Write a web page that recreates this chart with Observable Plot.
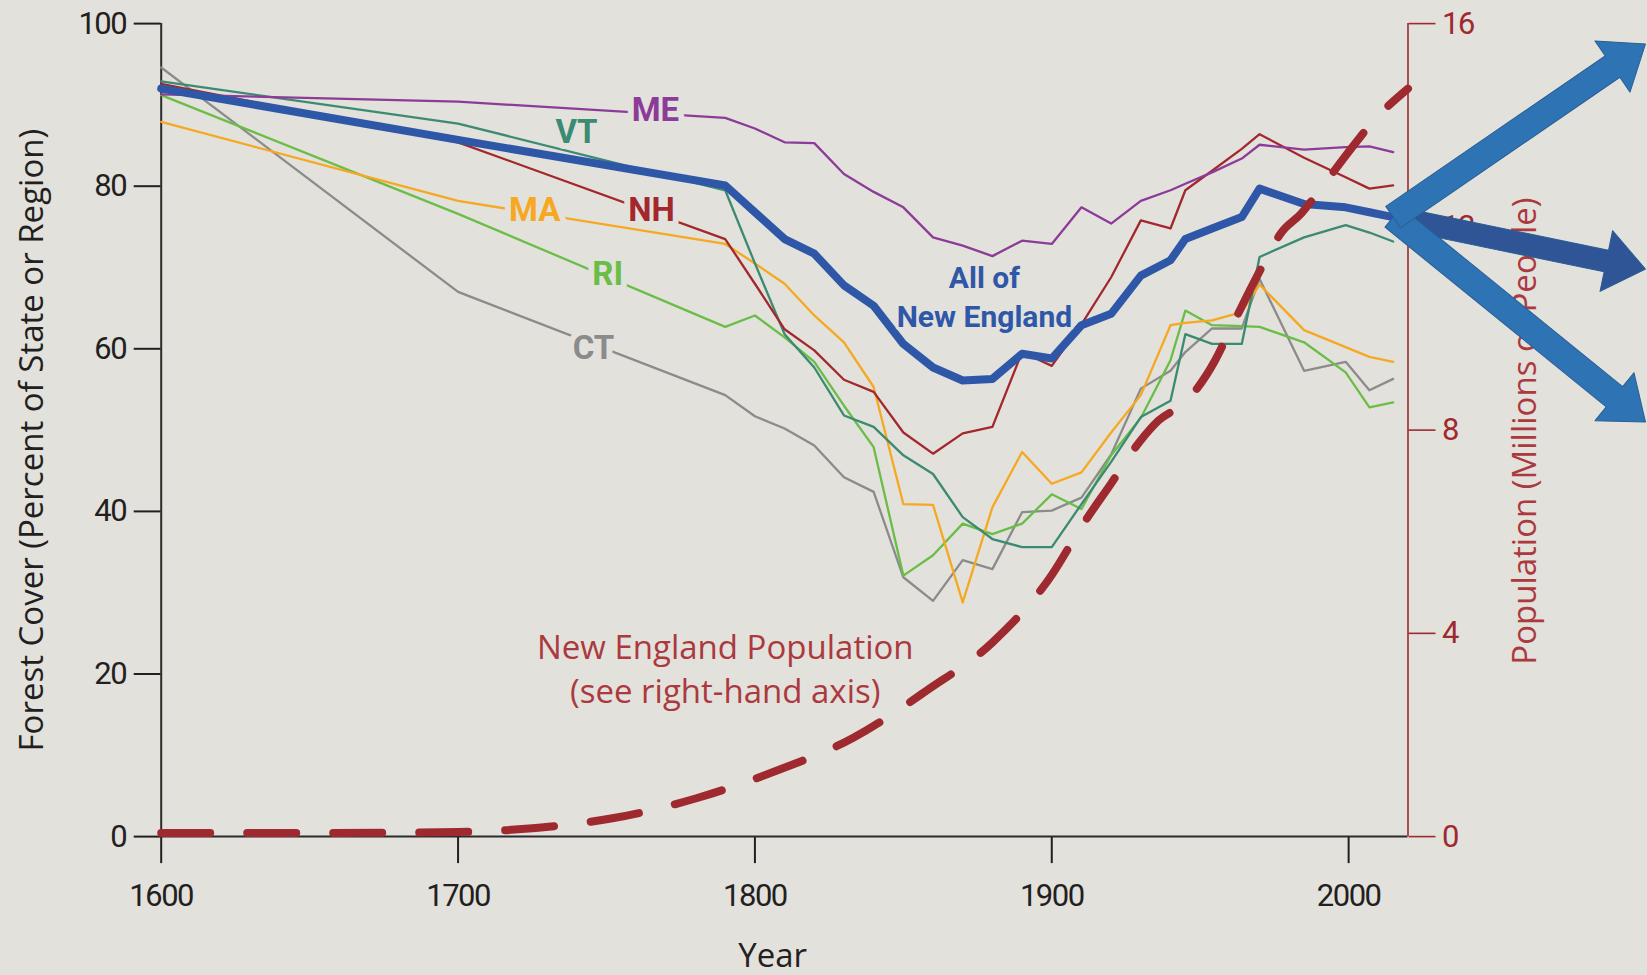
<!DOCTYPE html>
<html>
<head>
<meta charset="utf-8">
<script src="https://cdn.jsdelivr.net/npm/d3@7"></script>
<script src="https://cdn.jsdelivr.net/npm/@observablehq/plot@0.6"></script>
<style>
  html, body { margin: 0; padding: 0; background: #e2e1dc; }
  #chart svg { display: block; }
  #chart g[aria-label$="tick label"] { letter-spacing: -1.5px; }
  #chart g[aria-label="state labels"] { letter-spacing: -1px; }
  #chart g[aria-label="region label"] { letter-spacing: -0.8px; }
</style>
</head>
<body>
<div id="chart"></div>
<script>
// ---------------- DATA ----------------
const years = [1600, 1700, 1790, 1800, 1810, 1820, 1830, 1840, 1850, 1860, 1870, 1880, 1890, 1900,
               1910, 1920, 1930, 1940, 1945, 1954, 1964, 1970, 1985, 1999, 2007, 2015];

// Forest cover, percent of state / region
const allNewEngland = [92.0, 85.7, 80.1, 76.8, 73.5, 71.7, 67.8, 65.3, 60.6, 57.7, 56.1, 56.3, 59.4, 58.8,
                       62.9, 64.3, 69.0, 70.9, 73.5, 74.8, 76.2, 79.7, 77.8, 77.4, 76.8, 76.2];
const maine         = [91.3, 90.4, 88.4, 87.1, 85.4, 85.3, 81.5, 79.3, 77.4, 73.7, 72.7, 71.4, 73.3, 72.9,
                       77.4, 75.4, 78.2, 79.5, 80.3, 81.7, 83.4, 85.1, 84.5, 84.8, 84.9, 84.2];
const newHampshire  = [92.6, 85.4, 73.5, 68.0, 62.4, 59.8, 56.2, 54.7, 49.7, 47.1, 49.6, 50.4, 59.6, 57.9,
                       63.0, 68.8, 75.8, 74.8, 79.5, 81.9, 84.6, 86.4, 83.5, 81.1, 79.7, 80.1];
const vermont       = [92.9, 87.7, 79.5, 70.5, 61.8, 57.7, 51.8, 50.4, 46.9, 44.6, 39.3, 36.6, 35.6, 35.6,
                       40.9, 46.1, 51.6, 53.6, 61.8, 60.6, 60.6, 71.3, 73.7, 75.2, 74.3, 73.2];
const massachusetts = [87.9, 78.2, 72.9, 70.5, 68.0, 64.1, 60.8, 55.3, 40.9, 40.8, 28.8, 40.5, 47.3, 43.4,
                       44.8, 49.7, 54.3, 62.9, 63.2, 63.5, 64.5, 67.9, 62.3, 60.2, 59.0, 58.4];
const rhodeIsland   = [91.2, 76.6, 62.7, 64.1, 61.4, 58.4, 53.0, 47.9, 32.1, 34.6, 38.5, 37.2, 38.5, 42.1,
                       40.3, 46.9, 51.5, 58.6, 64.7, 62.9, 62.8, 62.7, 60.8, 57.1, 52.8, 53.4];
const connecticut   = [94.6, 67.0, 54.3, 51.7, 50.2, 48.1, 44.2, 42.4, 31.9, 29.0, 34.0, 32.9, 39.9, 40.1,
                       41.7, 47.0, 55.1, 57.3, 59.6, 62.5, 62.5, 68.6, 57.3, 58.4, 54.9, 56.3];

// New England population, millions of people (right-hand axis)
const popYears    = [1600, 1650, 1700, 1733, 1752, 1780, 1807, 1833, 1858, 1880, 1900, 1910, 1920, 1930,
                     1936, 1945, 1955, 1960, 1968, 1973, 1977, 1984, 1991, 2001, 2008, 2020];
const popMillions = [0.07, 0.07, 0.09, 0.21, 0.36, 0.75, 1.29, 1.94, 2.88, 3.82, 5.15, 6.10, 6.95, 7.80,
                     8.19, 8.55, 9.37, 9.96, 10.9, 11.45, 11.86, 12.26, 12.78, 13.55, 14.06, 14.72];

// Future forest-cover scenario arrows (from the 2015 regional value to 2100)
const scenarioStartYear = 2015;
const scenarioStartValue = 76.2;
const scenarioEndYear = 2100;
const scenarioEndValues = [97.5, 69.8, 51.0];

// Tick labels
const forestTicks = [0, 20, 40, 60, 80, 100];
const popTicks = [0, 4, 8, 12, 16];
const yearTicks = [1600, 1700, 1800, 1900, 2000];

// Series names and in-chart labels (label anchor in year / percent)
const stateNames  = ["CT", "RI", "MA", "VT", "NH", "ME"];
const labelYears  = [1745.6, 1750.4, 1725.8, 1739.9, 1765.2, 1766.5];
const labelValues = [60.1, 69.1, 77.0, 86.6, 77.0, 89.3];
const regionLabel = {text: "All of\nNew England", year: 1877.3, value: 66.6};
const popLabel = {text: "New England Population\n(see right-hand axis)", year: 1790, value: 20.9};

// ---------------- LAYOUT / STYLE ----------------
const W = 1647, H = 975;
const mL = 160.7, mR = 239.5, mT = 23.1, mB = 138.9;
const xMin = 1600, xMax = 2020, popMax = 16, forestMax = 100;
const bg = "#e2e1dc";
const narrow = "Roboto, 'Liberation Sans', sans-serif";
const sans = "'Open Sans', 'Noto Sans', sans-serif";
const stateValues = {CT: connecticut, RI: rhodeIsland, MA: massachusetts, VT: vermont, NH: newHampshire, ME: maine};
const stateColors = {CT: "#8b8b8b", RI: "#6abd46", MA: "#f6a821", VT: "#3b8a72", NH: "#a3282d", ME: "#8c3b99"};
const blue = "#2f57a8";
const popRed = "#9e2a2f";
const textRed = "#ab393d";

const toForest = p => p * forestMax / popMax;
const rowsOf = vals => years.map((yr, i) => ({year: yr, value: vals[i]})).filter(d => d.value != null);
const popRows = popYears.map((yr, i) => ({year: yr, value: toForest(popMillions[i])}));

// arrow geometry (screen-space length / angle derived from the same scales)
const pxPerYear = (W - mL - mR) / (xMax - xMin);
const pxPerPct = (H - mT - mB) / (forestMax - 0);
function arrowGeom(v) {
  const dx = (scenarioEndYear - scenarioStartYear) * pxPerYear;
  const dy = -(v - scenarioStartValue) * pxPerPct;
  return {length: Math.hypot(dx, dy), rotate: Math.atan2(dx, -dy) * 180 / Math.PI};
}
function arrowShape(shaft, headW, headL) {
  return {
    draw(ctx, l) {
      const b = -(l - headL);
      ctx.moveTo(-shaft / 2, 0);
      ctx.lineTo(-shaft / 2, b);
      ctx.lineTo(-headW / 2, b);
      ctx.lineTo(0, -l);
      ctx.lineTo(headW / 2, b);
      ctx.lineTo(shaft / 2, b);
      ctx.lineTo(shaft / 2, 0);
      ctx.closePath();
    }
  };
}
const arrowStyles = [
  {fill: "#2e74b5", shaft: 26, order: 2},
  {fill: "#2f5597", shaft: 22, order: 0},
  {fill: "#2e74b5", shaft: 26, order: 1}
];
const arrowMarks = scenarioEndValues
  .map((v, i) => ({v, i, ...arrowStyles[i]}))
  .sort((a, b) => a.order - b.order)
  .map(a => {
    const g = arrowGeom(a.v);
    return Plot.vector([{year: scenarioStartYear, value: scenarioStartValue}], {
      x: "year", y: "value", length: g.length, rotate: g.rotate, anchor: "start",
      shape: arrowShape(a.shaft, 62, 40), fill: a.fill, stroke: "#285e93", strokeWidth: 1
    });
  });

// ---------------- CHART ----------------
const chart = Plot.plot({
  width: W, height: H,
  marginLeft: mL, marginRight: mR, marginTop: mT, marginBottom: mB,
  x: {domain: [xMin, xMax]},
  y: {domain: [0, forestMax]},
  style: {background: bg, fontFamily: sans, overflow: "visible"},
  marks: [
    // axes
    Plot.axisY(forestTicks, {anchor: "left", tickSize: 27, tickPadding: 8, fontSize: 31, fontFamily: narrow,
      color: "#231f20", strokeWidth: 2, label: null}),
    Plot.axisY(popTicks.map(toForest), {anchor: "right", tickSize: 27, tickPadding: 7, fontSize: 31, fontFamily: narrow,
      color: popRed, strokeWidth: 1.6, tickFormat: d => String(Math.round(d * popMax / forestMax)), label: null}),
    Plot.axisX(yearTicks, {tickSize: 27, tickPadding: 20, fontSize: 31, fontFamily: narrow,
      color: "#231f20", strokeWidth: 2, tickFormat: d => String(d), label: null}),
    Plot.ruleX([xMin], {stroke: "#2b2b2b", strokeWidth: 2}),
    Plot.ruleY([0], {stroke: "#2b2b2b", strokeWidth: 2}),
    Plot.ruleX([xMax], {stroke: popRed, strokeWidth: 1.6}),

    // axis titles
    Plot.text(["Forest Cover (Percent of State or Region)"], {frameAnchor: "left", textAnchor: "middle",
      lineAnchor: "middle", rotate: -90, dx: -129, dy: 10, fontSize: 33, fontFamily: sans, fill: "#231f20"}),
    Plot.text(["Year"], {frameAnchor: "bottom", textAnchor: "middle", lineAnchor: "middle", dx: -12, dy: 120,
      fontSize: 33, fontFamily: sans, fill: "#231f20"}),
    Plot.text(["Population (Millions of People)"], {frameAnchor: "right", textAnchor: "middle", lineAnchor: "middle",
      rotate: -90, dx: 117.5, dy: 1, fontSize: 33, fontFamily: sans, fill: textRed}),

    // state lines
    ...stateNames.map(s => Plot.line(rowsOf(stateValues[s]), {x: "year", y: "value", stroke: stateColors[s],
      strokeWidth: 2.3, strokeLinejoin: "round"})),
    // all of New England
    Plot.line(rowsOf(allNewEngland), {x: "year", y: "value", stroke: blue, strokeWidth: 8,
      strokeLinejoin: "round", strokeLinecap: "round"}),
    // population (dashed, right axis)
    Plot.line(popRows, {x: "year", y: "value", stroke: popRed, strokeWidth: 8, curve: "monotone-x",
      strokeDasharray: "49,37", strokeLinecap: "round"}),

    // labels
    Plot.text(stateNames.map((s, i) => ({s, year: labelYears[i], value: labelValues[i]})), {
      x: "year", y: "value", text: "s", fill: d => stateColors[d.s], fontSize: 33, fontWeight: "bold",
      fontFamily: narrow, stroke: bg, strokeWidth: 12, ariaLabel: "state labels"}),
    Plot.text([regionLabel], {x: "year", y: "value", text: "text", fill: blue, fontSize: 30, fontWeight: "bold",
      fontFamily: narrow, lineHeight: 1.28, stroke: bg, strokeWidth: 6, ariaLabel: "region label"}),
    Plot.text([popLabel], {x: "year", y: "value", text: "text", fill: textRed, fontSize: 33,
      fontFamily: sans, lineHeight: 1.33}),

    // scenario arrows
    ...arrowMarks
  ]
});
document.getElementById("chart").appendChild(chart);
</script>
</body>
</html>
